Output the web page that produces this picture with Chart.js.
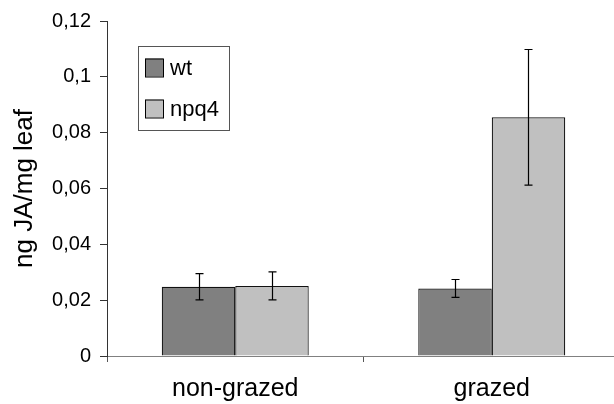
<!DOCTYPE html>
<html><head><meta charset="utf-8">
<script src="https://cdn.jsdelivr.net/npm/chart.js@4/dist/chart.umd.min.js"></script>
<style>html,body{margin:0;padding:0;overflow:hidden;background:#fff;width:614px;height:404px}canvas{display:block}</style>
</head><body>
<canvas id="c" width="640" height="404" style="width:640px;height:404px"></canvas>
<script>
const categories = ['non-grazed', 'grazed'];
const seriesNames = ['wt', 'npq4'];
const wtValues = [0.0248, 0.0242];
const npq4Values = [0.0251, 0.0855];
const wtErrors = [0.0047, 0.0032];
const npq4Errors = [0.0050, 0.0243];
const yTickLabels = ['0', '0,02', '0,04', '0,06', '0,08', '0,1', '0,12'];
const yTitle = 'ng JA/mg leaf';

const FONT = "'Liberation Sans', Arial, Helvetica, sans-serif";

const errorBarPlugin = {
  id: 'errorBars',
  afterDatasetsDraw(chart) {
    const ctx = chart.ctx;
    const y = chart.scales.y;
    ctx.save();
    ctx.strokeStyle = '#000';
    ctx.lineWidth = 1.2;
    chart.data.datasets.forEach((ds, di) => {
      const meta = chart.getDatasetMeta(di);
      meta.data.forEach((bar, i) => {
        const v = ds.data[i], e = ds.errors[i];
        const yt = y.getPixelForValue(v + e);
        const yb = y.getPixelForValue(v - e);
        const x = Math.round(bar.x) + 0.5;
        ctx.beginPath();
        ctx.moveTo(x, yt); ctx.lineTo(x, yb);
        ctx.moveTo(x - 4, yt); ctx.lineTo(x + 4, yt);
        ctx.moveTo(x - 4, yb); ctx.lineTo(x + 4, yb);
        ctx.stroke();
      });
    });
    ctx.restore();
  }
};

const boxLegendPlugin = {
  id: 'boxLegend',
  afterDraw(chart) {
    const ctx = chart.ctx;
    const a = chart.chartArea;
    const left = a.left + 31, top = a.top + 25, w = 91, h = 84;
    ctx.save();
    ctx.fillStyle = '#fff';
    ctx.fillRect(left, top, w, h);
    ctx.strokeStyle = '#555';
    ctx.lineWidth = 1;
    ctx.strokeRect(left + 0.5, top + 0.5, w, h);
    ctx.font = '22px ' + FONT;
    ctx.textBaseline = 'middle';
    ctx.textAlign = 'left';
    chart.data.datasets.forEach((ds, i) => {
      const cy = top + 21.5 + i * 41;
      ctx.fillStyle = ds.backgroundColor;
      ctx.fillRect(left + 7, cy - 9, 18, 18);
      ctx.strokeStyle = '#000';
      ctx.strokeRect(left + 7.5, cy - 8.5, 18, 18);
      ctx.fillStyle = '#000';
      ctx.fillText(ds.label, left + 32, cy + 1);
    });
    ctx.restore();
  }
};

new Chart(document.getElementById('c'), {
  type: 'bar',
  data: {
    labels: categories,
    datasets: [
      { label: seriesNames[0], data: wtValues, errors: wtErrors, backgroundColor: '#808080', borderColor: '#111', borderWidth: 1.2 },
      { label: seriesNames[1], data: npq4Values, errors: npq4Errors, backgroundColor: '#c0c0c0', borderColor: '#111', borderWidth: 1.2 }
    ]
  },
  options: {
    responsive: false,
    devicePixelRatio: 1,
    animation: false,
    layout: { padding: { top: 20, right: 20, left: 0, bottom: 0 } },
    datasets: { bar: { categoryPercentage: 0.573, barPercentage: 1.0 } },
    plugins: { legend: { display: false }, tooltip: { enabled: false } },
    scales: {
      x: {
        afterFit(scale) { scale.height = 48; },
        grid: { drawOnChartArea: false, drawTicks: true, tickLength: 6, color: '#555', offset: true },
        border: { display: true, color: '#808080', width: 1 },
        ticks: { color: '#000', padding: 12, font: { family: FONT, size: 25 }, maxRotation: 0 }
      },
      y: {
        min: 0, max: 0.12,
        afterFit(scale) { scale.width = 107; },
        grid: { drawOnChartArea: false, drawTicks: true, tickLength: 7, color: '#333' },
        border: { display: true, color: '#333', width: 1 },
        ticks: {
          stepSize: 0.02, color: '#000', padding: 9,
          font: { family: FONT, size: 20 },
          callback: (v, i) => yTickLabels[i]
        },
        title: { display: true, text: yTitle, color: '#000', font: { family: FONT, size: 26 }, padding: { top: 9, bottom: 0 } }
      }
    }
  },
  plugins: [errorBarPlugin, boxLegendPlugin]
});
</script>
</body></html>
